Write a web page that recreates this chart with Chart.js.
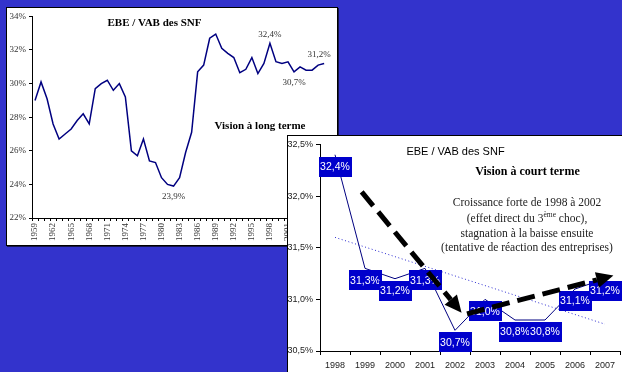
<!DOCTYPE html>
<html>
<head>
<meta charset="utf-8">
<script src="https://cdn.jsdelivr.net/npm/chart.js@4.4.0/dist/chart.umd.min.js"></script>
<style>
  html, body { margin: 0; padding: 0; width: 622px; height: 372px; overflow: hidden; background: #3333cc; }
  .box { position: absolute; background: #fff; border: 1px solid #000; box-shadow: 1px 1px 0 #15154a; }
  #longBox { left: 6px; top: 7px; width: 330px; height: 237px; }
  #shortBox { left: 287px; top: 135px; width: 336px; height: 240px; }
  canvas { display: block; }
</style>
</head>
<body>
<div class="box" id="longBox"><canvas id="longChart" width="330" height="237"></canvas></div>
<div class="box" id="shortBox"><canvas id="shortChart" width="336" height="236"></canvas></div>
<script>
// Long-run series: EBE / VAB of non-financial corporations (SNF), 1959-2007, in %
const longYears = [
  '1959','1960','1961','1962','1963','1964','1965','1966','1967','1968',
  '1969','1970','1971','1972','1973','1974','1975','1976','1977','1978',
  '1979','1980','1981','1982','1983','1984','1985','1986','1987','1988',
  '1989','1990','1991','1992','1993','1994','1995','1996','1997','1998',
  '1999','2000','2001','2002','2003','2004','2005','2006','2007'
];
const longValues = [
  29.0, 30.1, 29.1, 27.6, 26.7, 27.0, 27.3, 27.8, 28.2, 27.6,
  29.7, 30.0, 30.2, 29.6, 30.0, 29.2, 26.0, 25.7, 26.7, 25.4,
  25.3, 24.4, 24.0, 23.9, 24.4, 25.9, 27.1, 30.7, 31.1, 32.7,
  32.95, 32.1, 31.8, 31.55, 30.65, 30.85, 31.55, 30.6, 31.2, 32.4,
  31.3, 31.2, 31.3, 30.7, 31.0, 30.8, 30.8, 31.1, 31.2
];
const longTicks = [22, 24, 26, 28, 30, 32, 34];
// annotated years on the long-run chart and where their value sits
const longNoteYears = ['1982', '1998', '2002', '2007'];
const longNotePlace = ['below', 'above', 'below', 'above'];

// Short-run zoom, 1998-2007
const shortYears = ['1998','1999','2000','2001','2002','2003','2004','2005','2006','2007'];
const shortValues = [32.4, 31.3, 31.2, 31.3, 30.7, 31.0, 30.8, 30.8, 31.1, 31.2];
const shortTicks = [30.5, 31.0, 31.5, 32.0, 32.5];
// linear trend: value at first and last year
const trendEnds = [31.6, 30.76];
// tendency arrows, as [category index, value]
const arrowFrom = [[0.89, 32.04], [4.40, 30.86]];
const arrowTo   = [[4.22, 30.87], [9.28, 31.23]];

const pct = v => v.toFixed(1).replace('.', ',') + '%';
const serif = '"Liberation Serif", "Times New Roman", serif';
const sans = '"Liberation Sans", Arial, sans-serif';

Chart.defaults.animation = false;
Chart.defaults.plugins.legend.display = false;
Chart.defaults.plugins.tooltip.enabled = false;

// ---------- long-run chart ----------
const longNotes = {
  id: 'longNotes',
  afterDatasetsDraw(chart) {
    const ctx = chart.ctx;
    const meta = chart.getDatasetMeta(0);
    ctx.save();
    ctx.textAlign = 'center';
    ctx.textBaseline = 'middle';
    ctx.font = '9px ' + serif;
    ctx.fillStyle = '#333';
    longNoteYears.forEach((yr, k) => {
      const i = longYears.indexOf(yr);
      const p = meta.data[i];
      const dy = longNotePlace[k] === 'above' ? -9 : 11;
      ctx.fillText(pct(longValues[i]), p.x - (k === 3 ? 5 : 0), p.y + dy);
    });
    ctx.fillStyle = '#000';
    ctx.font = 'bold 11px ' + serif;
    ctx.fillText('EBE / VAB des SNF', 147.5, 15);
    ctx.fillText('Vision à long terme', 253, 118.5);
    ctx.restore();
  }
};

new Chart(document.getElementById('longChart'), {
  type: 'line',
  data: {
    labels: longYears,
    datasets: [{
      data: longValues,
      borderColor: '#000080',
      borderWidth: 1.5,
      pointRadius: 0,
      tension: 0,
      fill: false
    }]
  },
  options: {
    responsive: false,
    layout: { padding: { top: 7, right: 5, bottom: 0, left: 0 } },
    scales: {
      x: {
        type: 'category',
        offset: true,
        afterFit: s => { s.height = 27; },
        grid: { display: true, drawOnChartArea: false, drawTicks: true, tickLength: 3, offset: true, color: '#000' },
        border: { display: true, color: '#000', width: 1 },
        ticks: {
          autoSkip: false, minRotation: 90, maxRotation: 90, padding: 2,
          color: '#333', font: { family: serif, size: 9 },
          callback: (v, i) => (i % 3 === 0 ? longYears[i] : '')
        }
      },
      y: {
        min: 22, max: 34,
        afterFit: s => { s.width = 25; },
        afterBuildTicks: s => { s.ticks = longTicks.map(v => ({ value: v })); },
        grid: { display: true, drawOnChartArea: false, drawTicks: true, tickLength: 3, color: '#000' },
        border: { display: true, color: '#000', width: 1 },
        ticks: {
          padding: 3, color: '#333', font: { family: serif, size: 9 },
          callback: v => v + '%'
        }
      }
    }
  },
  plugins: [longNotes]
});

// ---------- short-run chart ----------
function drawArrow(ctx, x1, y1, x2, y2) {
  const a = Math.atan2(y2 - y1, x2 - x1);
  const headLen = 17, headHalf = 8;
  const bx = x2 - headLen * Math.cos(a), by = y2 - headLen * Math.sin(a);
  ctx.strokeStyle = '#000';
  ctx.fillStyle = '#000';
  ctx.lineWidth = 5;
  ctx.lineCap = 'butt';
  ctx.setLineDash([18, 8]);
  ctx.beginPath();
  ctx.moveTo(x1, y1);
  ctx.lineTo(bx, by);
  ctx.stroke();
  ctx.setLineDash([]);
  ctx.beginPath();
  ctx.moveTo(x2, y2);
  ctx.lineTo(bx + headHalf * Math.sin(a), by - headHalf * Math.cos(a));
  ctx.lineTo(bx - headHalf * Math.sin(a), by + headHalf * Math.cos(a));
  ctx.closePath();
  ctx.fill();
}

const shortNotes = {
  id: 'shortNotes',
  beforeDatasetsDraw(chart) {
    const ctx = chart.ctx;
    ctx.save();
    ctx.textAlign = 'center';
    ctx.textBaseline = 'middle';
    ctx.fillStyle = '#000';
    ctx.font = '11px ' + sans;
    ctx.fillText('EBE / VAB des SNF', 167.5, 15.5);
    ctx.font = 'bold 12px ' + serif;
    ctx.fillText('Vision à court terme', 239.5, 35.5);

    ctx.font = '11.5px ' + serif;
    ctx.textBaseline = 'alphabetic';
    ctx.fillStyle = '#222';
    const cx = 239;
    ctx.fillText('Croissance forte de 1998 à 2002', cx, 69.5);
    // line with a superscript ordinal
    const parts = [['(effet direct du 3', '11.5px ', 0], ['ème', '7.5px ', -5], [' choc),', '11.5px ', 0]];
    let total = 0;
    parts.forEach(p => { ctx.font = p[1] + serif; total += ctx.measureText(p[0]).width; });
    let x = cx - total / 2;
    ctx.textAlign = 'left';
    parts.forEach(p => {
      ctx.font = p[1] + serif;
      ctx.fillText(p[0], x, 86 + p[2]);
      x += ctx.measureText(p[0]).width;
    });
    ctx.textAlign = 'center';
    ctx.font = '11.5px ' + serif;
    ctx.fillText('stagnation à la baisse ensuite', cx, 101);
    ctx.fillText('(tentative de réaction des entreprises)', cx, 115);
    ctx.restore();
  },
  afterDatasetsDraw(chart) {
    const ctx = chart.ctx;
    const meta = chart.getDatasetMeta(0);
    const xs = chart.scales.x, ys = chart.scales.y;
    ctx.save();
    // value boxes under each point
    ctx.textAlign = 'center';
    ctx.textBaseline = 'middle';
    ctx.font = '10.5px ' + sans;
    meta.data.forEach((p, i) => {
      const cy = p.y + 12;
      ctx.fillStyle = '#0000cc';
      ctx.fillRect(Math.round(p.x - 16.5), Math.round(cy - 10), 33, 20);
      ctx.fillStyle = '#fff';
      ctx.fillText(pct(shortValues[i]), p.x, cy + 0.5);
    });
    // tendency arrows
    arrowFrom.forEach((f, k) => {
      const t = arrowTo[k];
      drawArrow(ctx,
        xs.getPixelForValue(f[0]), ys.getPixelForValue(f[1]),
        xs.getPixelForValue(t[0]), ys.getPixelForValue(t[1]));
    });
    ctx.restore();
  }
};

const trendData = shortYears.map((_, i) =>
  i === 0 ? trendEnds[0] : (i === shortYears.length - 1 ? trendEnds[1] : null));

new Chart(document.getElementById('shortChart'), {
  type: 'line',
  data: {
    labels: shortYears,
    datasets: [{
      data: shortValues,
      borderColor: '#000080',
      borderWidth: 1,
      pointRadius: 0,
      tension: 0,
      fill: false,
      order: 1
    }, {
      data: trendData,
      spanGaps: true,
      borderColor: '#2a2ad0',
      borderWidth: 1,
      borderDash: [1, 2.5],
      pointRadius: 0,
      fill: false,
      order: 2
    }]
  },
  options: {
    responsive: false,
    clip: false,
    layout: { padding: { top: 8, right: 4, bottom: 0, left: 0 } },
    scales: {
      x: {
        type: 'category',
        offset: true,
        afterFit: s => { s.height = 21; },
        grid: { display: true, drawOnChartArea: false, drawTicks: true, tickLength: 4, offset: true, color: '#000' },
        border: { display: true, color: '#000', width: 1 },
        ticks: { autoSkip: false, maxRotation: 0, padding: 5, color: '#222', font: { family: sans, size: 9 } }
      },
      y: {
        min: 30.5, max: 32.5,
        afterFit: s => { s.width = 32; },
        afterBuildTicks: s => { s.ticks = shortTicks.map(v => ({ value: v })); },
        grid: { display: true, drawOnChartArea: false, drawTicks: true, tickLength: 4, color: '#000' },
        border: { display: true, color: '#000', width: 1 },
        ticks: { padding: 3, color: '#222', font: { family: sans, size: 9 }, callback: v => pct(v) }
      }
    }
  },
  plugins: [shortNotes]
});
</script>
</body>
</html>
